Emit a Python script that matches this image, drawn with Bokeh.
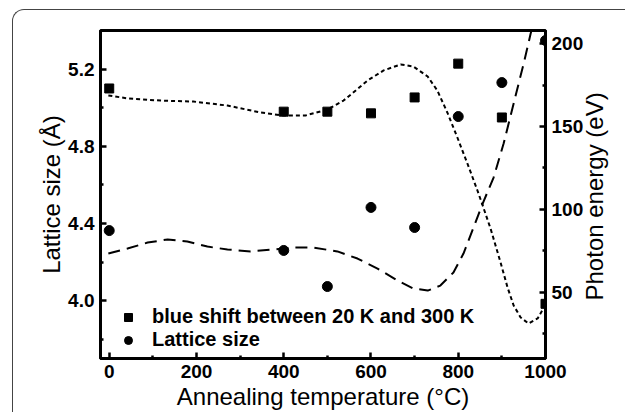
import math
from bokeh.plotting import figure
from bokeh.models import (Range1d, LinearAxis, FixedTicker, Legend, LegendItem,
                          NumeralTickFormatter, Label)
from bokeh.embed import file_html
from bokeh.resources import INLINE

# ---- data ----
temps = [0, 400, 500, 600, 700, 800, 900, 1000]
blue_shift = [173, 159, 159, 158, 167.6, 188, 155.5, 43]          # right axis (eV)
lattice = [4.363, 4.260, 4.073, 4.483, 4.379, 4.954, 5.130, 5.348]  # left axis (Å)

# dotted fit through the blue-shift points (right axis)
fit_shift_x = [-2, 42, 118, 193, 271, 347, 399, 450, 500, 537, 565, 592, 629, 668,
               697, 730, 752, 775, 798, 821, 844, 856, 874, 897, 913, 927, 943, 961,
               982, 995, 1000]
fit_shift_y = [168.8, 167.0, 165.7, 165.1, 162.7, 158.5, 156.7, 156.7, 160.3, 165.7,
               171.8, 177.8, 183.9, 187.5, 186.3, 180.2, 171.8, 158.5, 143.4, 127.7,
               111.4, 102.4, 88.5, 68.0, 52.9, 42.0, 34.8, 31.1, 34.2, 40.2, 43.2]

# dashed fit through the lattice points (left axis)
fit_lattice_x = [-2, 42, 88, 134, 179, 225, 271, 324, 377, 422, 468, 523, 569, 615,
                 661, 697, 730, 759, 789, 812, 835, 856, 881, 904, 927, 950, 966, 970]
fit_lattice_y = [4.244, 4.270, 4.301, 4.317, 4.306, 4.280, 4.265, 4.255, 4.265, 4.275,
                 4.275, 4.255, 4.218, 4.166, 4.104, 4.063, 4.052, 4.078, 4.146, 4.244,
                 4.379, 4.503, 4.638, 4.814, 5.022, 5.229, 5.384, 5.416]

x_ticks = [0, 200, 400, 600, 800, 1000]
x_minor = [100, 300, 500, 700, 900]
left_ticks = [4.0, 4.4, 4.8, 5.2]
left_minor = [3.8, 4.2, 4.6, 5.0]
right_ticks = [50, 100, 150, 200]
right_minor = [25, 75, 125, 175]

FONT = "Arial"

p = figure(width=625, height=412, x_range=Range1d(-20, 1000), y_range=Range1d(3.7, 5.4),
           output_backend="svg", toolbar_location=None,
           min_border_left=100, min_border_right=80, min_border_top=30, min_border_bottom=54)
p.extra_y_ranges = {"energy": Range1d(10, 208)}
p.grid.visible = False
p.outline_line_color = "black"
p.outline_line_width = 3
p.outline_line_alpha = 1
p.background_fill_color = "white"
p.border_fill_color = "white"
# rounded outer panel border (decoration, only top and left edges are in view)
p.stylesheets = [":host { position: relative; }",
                 ":host::before { content: ''; position: absolute; left: 12px; top: 9px; "
                 "right: 0; bottom: 0; border-top: 1.5px solid #444; "
                 "border-left: 1.5px solid #444; border-top-left-radius: 12px; "
                 "z-index: 10; pointer-events: none; }"]

right_axis = LinearAxis(y_range_name="energy")
p.add_layout(right_axis, "right")


def style(ax, ticks, minor):
    ax.ticker = FixedTicker(ticks=ticks, minor_ticks=minor)
    ax.axis_line_width = 3
    ax.axis_line_color = "black"
    ax.major_tick_in = 6
    ax.major_tick_out = 0
    ax.minor_tick_in = 3
    ax.minor_tick_out = 0
    ax.major_tick_line_width = 2.5
    ax.minor_tick_line_width = 2.5
    ax.major_tick_line_color = "black"
    ax.minor_tick_line_color = "black"
    ax.major_label_text_font = FONT
    ax.major_label_text_font_style = "bold"
    ax.major_label_text_font_size = "19px"
    ax.major_label_text_color = "black"
    ax.axis_label_text_font = FONT
    ax.axis_label_text_font_style = "normal"
    ax.axis_label_text_font_size = "24px"
    ax.axis_label_text_color = "black"


style(p.xaxis[0], x_ticks, x_minor)
style(p.yaxis[0], left_ticks, left_minor)
style(right_axis, right_ticks, right_minor)
p.xaxis[0].axis_label = "Annealing temperature (°C)"
p.yaxis[0].axis_label = "Lattice size (Å)"
p.xaxis[0].major_label_standoff = 6
p.xaxis[0].axis_label_standoff = 2
p.yaxis[0].major_label_standoff = 6
p.yaxis[0].axis_label_standoff = 0
right_axis.major_label_standoff = 6
p.yaxis[0].formatter = NumeralTickFormatter(format="0.0")

# right-hand axis title, reading bottom to top as in the reference;
# placed in the right side panel so it is not clipped to the plot frame
p.add_layout(Label(x=1112, y=4.54, text="Photon energy (eV)", angle=math.pi / 2,
                   text_align="center", text_baseline="middle",
                   text_font=FONT, text_font_size="24px", text_color="black"), "right")

p.line(fit_shift_x, fit_shift_y, y_range_name="energy", line_color="black",
       line_width=2, line_dash="4 3")
p.line(fit_lattice_x, fit_lattice_y, line_color="black", line_width=2, line_dash="12 7")

r_sq = p.scatter(temps, blue_shift, marker="square", size=9, y_range_name="energy",
                 fill_color="black", line_color="black")
r_ci = p.scatter(temps, lattice, marker="circle", size=10,
                 fill_color="black", line_color="black")

legend = Legend(items=[LegendItem(label="blue shift between 20 K and 300 K", renderers=[r_sq]),
                       LegendItem(label="Lattice size", renderers=[r_ci])],
                location=(18, 7), padding=0, margin=0, spacing=0,
                glyph_height=20, glyph_width=20, label_height=20, label_standoff=14,
                label_text_font=FONT, label_text_font_style="bold",
                label_text_font_size="20px", label_text_color="black",
                border_line_alpha=0, background_fill_alpha=0)
p.add_layout(legend)

open("out.html", "w").write(file_html(p, INLINE))
